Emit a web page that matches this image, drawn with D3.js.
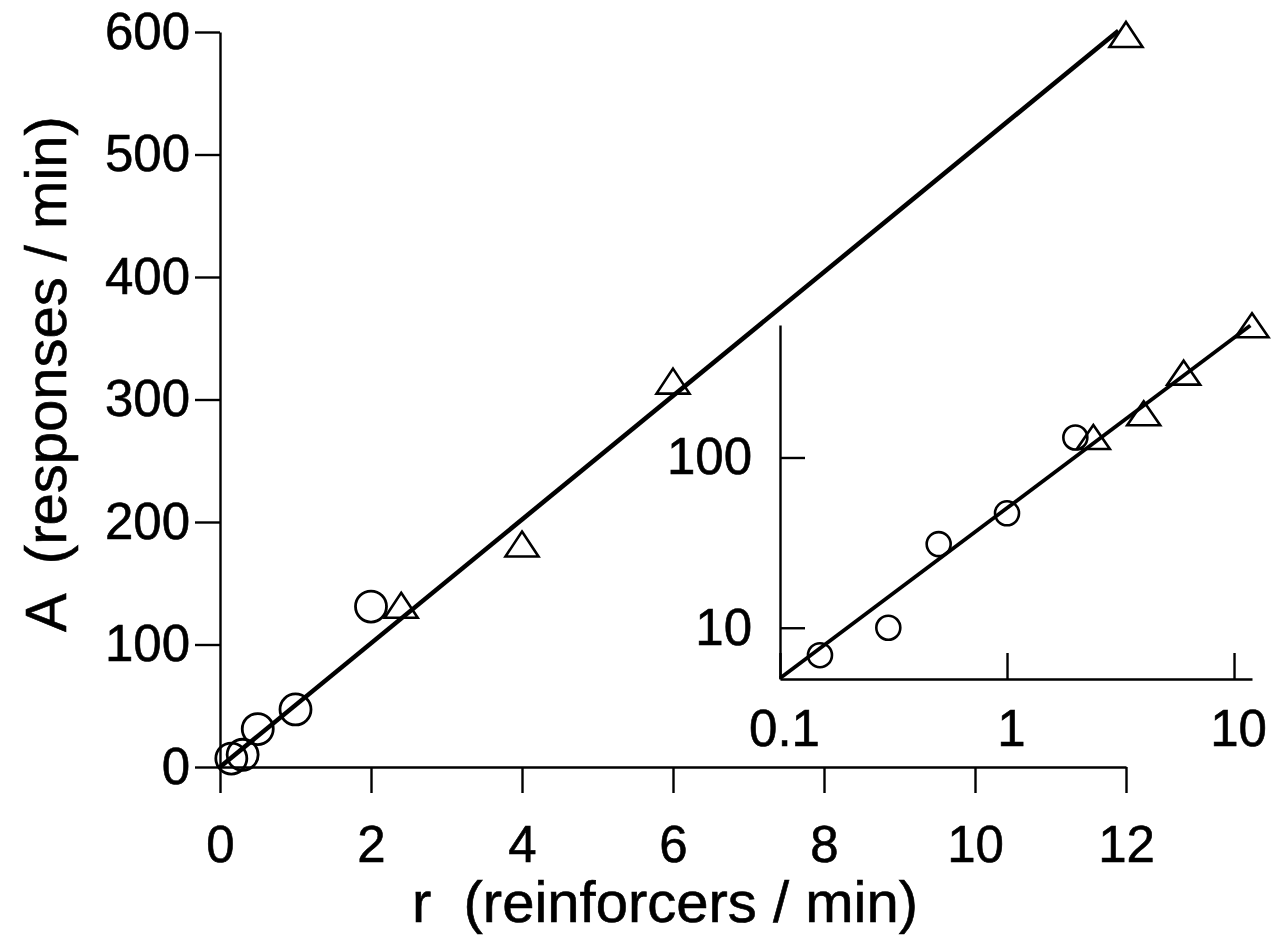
<!DOCTYPE html>
<html>
<head>
<meta charset="utf-8">
<script src="https://cdn.jsdelivr.net/npm/d3@7/dist/d3.min.js"></script>
<style>
  html, body { margin: 0; padding: 0; background: #fff; }
  svg { display: block; font-family: "Liberation Sans", Arial, Helvetica, sans-serif; }
  text { white-space: pre; }
</style>
</head>
<body>
<svg id="chart" width="1280" height="937"></svg>
<script>
// ---- data ----
const circleR = [0.15, 0.3, 0.5, 1, 2];
const circleA = [6.9, 10, 31, 47, 131];
const triangleR = [2.4, 4, 6, 12];
const triangleA = [132, 182, 315, 598];
const fitR = [0, 11.9];
const fitA = [0, 601];
const insetFitR = [0.1, 11.8];
const insetFitA = [5.05, 596];
const xTicks = [0, 2, 4, 6, 8, 10, 12];
const yTicks = [0, 100, 200, 300, 400, 500, 600];
const insetXTicks = [0.1, 1, 10];
const insetYTicks = [10, 100];
const xTitle = "r  (reinforcers / min)";
const yTitle = "A  (responses / min)";

const svg = d3.select("#chart");

// ---- main scales ----
const x = d3.scaleLinear().domain([0, 12]).range([220, 1126]);
const y = d3.scaleLinear().domain([0, 600]).range([767, 32]);

// ---- inset scales ----
const ix = d3.scaleLog().domain([0.1, 12]).range([780, 1252]);
const iy = d3.scaleLog().domain([5, 600]).range([679, 325]);

function styleAxis(g, fs) {
  g.select(".domain").attr("stroke", "#000").attr("stroke-width", 2.4);
  g.selectAll(".tick line").attr("stroke", "#000").attr("stroke-width", 2.4);
  g.selectAll(".tick text").attr("fill", "#000")
    .attr("stroke", "#000").attr("stroke-width", 0.6)
    .style("font-size", fs + "px")
    .style("font-family", "'Liberation Sans', Arial, sans-serif");
}

// main axes
const gx = svg.append("g").attr("transform", `translate(0,${y(0)})`)
  .call(d3.axisBottom(x).tickValues(xTicks).tickFormat(d3.format("d"))
    .tickSizeInner(26).tickSizeOuter(0).tickPadding(33));
styleAxis(gx, 51);

const gy = svg.append("g").attr("transform", `translate(${x(0)},0)`)
  .call(d3.axisLeft(y).tickValues(yTicks).tickFormat(d3.format("d"))
    .tickSizeInner(25).tickSizeOuter(0).tickPadding(5));
styleAxis(gy, 51);

// inset axes
const igx = svg.append("g").attr("transform", `translate(0,${iy.range()[0]})`)
  .call(d3.axisBottom(ix).tickValues(insetXTicks).tickFormat(d => String(d))
    .tickSizeInner(-26).tickSizeOuter(0).tickPadding(31));
styleAxis(igx, 51);
igx.selectAll(".tick text").attr("dx", 4);

const igy = svg.append("g").attr("transform", `translate(${ix.range()[0]},0)`)
  .call(d3.axisLeft(iy).tickValues(insetYTicks).tickFormat(d => String(d))
    .tickSizeInner(-25).tickSizeOuter(0).tickPadding(28));
styleAxis(igy, 51);

// titles
svg.append("text")
  .attr("x", 665)
  .attr("y", 922)
  .attr("text-anchor", "middle")
  .style("font-size", "58px")
  .attr("fill", "#000").attr("stroke", "#000").attr("stroke-width", 0.6)
  .text(xTitle);

svg.append("text")
  .attr("transform", `translate(66,374) rotate(-90)`)
  .attr("text-anchor", "middle")
  .style("font-size", "58px")
  .attr("fill", "#000").attr("stroke", "#000").attr("stroke-width", 0.6)
  .text(yTitle);

// ---- main plot ----
const line = d3.line().x(d => x(d[0])).y(d => y(d[1]));
svg.append("path")
  .datum(d3.zip(fitR, fitA))
  .attr("d", line)
  .attr("fill", "none").attr("stroke", "#000").attr("stroke-width", 4.6);

const tri = (w, h) => `M0,${-h/2}L${w/2},${h/2}L${-w/2},${h/2}Z`;

svg.append("g").selectAll("circle")
  .data(d3.zip(circleR, circleA)).join("circle")
  .attr("cx", d => x(d[0])).attr("cy", d => y(d[1])).attr("r", 15.5)
  .attr("fill", "none").attr("stroke", "#000").attr("stroke-width", 2.8);

svg.append("g").selectAll("path")
  .data(d3.zip(triangleR, triangleA)).join("path")
  .attr("transform", d => `translate(${x(d[0])},${y(d[1])})`)
  .attr("d", tri(33, 25))
  .attr("fill", "none").attr("stroke", "#000").attr("stroke-width", 2.6)
  .attr("stroke-linejoin", "miter");

// ---- inset plot ----
const iline = d3.line().x(d => ix(d[0])).y(d => iy(d[1]));
svg.append("path")
  .datum(d3.zip(insetFitR, insetFitA))
  .attr("d", iline)
  .attr("fill", "none").attr("stroke", "#000").attr("stroke-width", 3.8);

svg.append("g").selectAll("circle")
  .data(d3.zip(circleR, circleA)).join("circle")
  .attr("cx", d => ix(d[0])).attr("cy", d => iy(d[1])).attr("r", 12)
  .attr("fill", "none").attr("stroke", "#000").attr("stroke-width", 2.6);

svg.append("g").selectAll("path")
  .data(d3.zip(triangleR, triangleA)).join("path")
  .attr("transform", d => `translate(${ix(d[0])},${iy(d[1])})`)
  .attr("d", tri(33, 24))
  .attr("fill", "none").attr("stroke", "#000").attr("stroke-width", 2.6);
</script>
</body>
</html>
